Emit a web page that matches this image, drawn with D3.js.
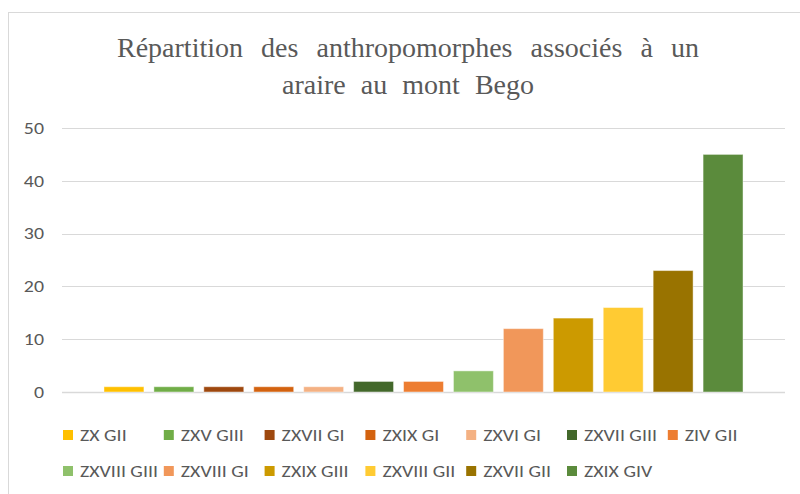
<!DOCTYPE html>
<html>
<head>
<meta charset="utf-8">
<script src="https://cdn.jsdelivr.net/npm/d3@7"></script>
<style>
  html, body { margin: 0; padding: 0; background: #fff; }
  svg { display: block; }
</style>
</head>
<body>
<svg id="chart" width="800" height="494"></svg>
<script>
// Series (one bar each) and their counts
const series = ["ZX GII", "ZXV GIII", "ZXVII GI", "ZXIX GI", "ZXVI GI", "ZXVII GIII", "ZIV GII",
                "ZXVIII GIII", "ZXVIII GI", "ZXIX GIII", "ZXVIII GII", "ZXVII GII", "ZXIX GIV"];
const values = [1, 1, 1, 1, 1, 2, 2, 4, 12, 14, 16, 23, 45];
const colors = ["#FFC000", "#70AD47", "#9E480E", "#D3620F", "#F4B183", "#43682B", "#ED7D31",
                "#8FC16B", "#F1975A", "#CC9A00", "#FFCB33", "#997300", "#5B8B3C"];
const yTicks = [0, 10, 20, 30, 40, 50];
const titleLines = ["Répartition des anthropomorphes associés à un", "araire au mont Bego"];

const svg = d3.select("#chart");
const W = 800, H = 494;
const labelFont = "Carlito, Calibri, Lato, 'Open Sans', sans-serif";
const labelSize = 16.5;

// chart frame
svg.append("rect")
  .attr("x", 8.5).attr("y", 12.5)
  .attr("width", W + 10).attr("height", H + 10)
  .attr("fill", "#fff").attr("stroke", "#D9D9D9").attr("stroke-width", 1);

const plot = { left: 62, right: 785, top: 128, bottom: 392 };

const y = d3.scaleLinear().domain([0, 50]).range([plot.bottom, plot.top]);

// single category holding the cluster of series
const x0 = d3.scaleBand().domain(["all"]).range([plot.left, plot.right])
  .paddingInner(0).paddingOuter(0.0657);
const x1 = d3.scaleBand().domain(series).range([0, x0.bandwidth()])
  .paddingInner(0.2).paddingOuter(0);

// horizontal stretch of the label face, taken from the widest legend entry
const probe = svg.append("text")
  .style("font-family", labelFont).style("font-size", labelSize + "px")
  .text("ZXVIII GIII");
const sx = 78 / probe.node().getComputedTextLength();
probe.remove();

// gridlines
svg.append("g")
  .selectAll("line").data(yTicks).join("line")
  .attr("x1", plot.left).attr("x2", plot.right)
  .attr("y1", d => Math.round(y(d)) + 0.5).attr("y2", d => Math.round(y(d)) + 0.5)
  .attr("stroke", "#D9D9D9").attr("stroke-width", d => d === 0 ? 1.6 : 1.2);

// y axis labels
const yAxis = d3.axisLeft(y).tickValues(yTicks).tickSize(0).tickPadding(0);
const gy = svg.append("g").attr("transform", `translate(${plot.left - 18},0)`).call(yAxis);
gy.select(".domain").remove();
gy.selectAll(".tick text")
  .attr("x", 0)
  .attr("transform", `scale(${sx},1)`)
  .attr("fill", "#595959")
  .style("font-family", labelFont)
  .style("font-size", labelSize + "px");

// bars
svg.append("g")
  .attr("transform", `translate(${x0("all")},0)`)
  .selectAll("rect").data(series).join("rect")
  .attr("x", d => x1(d))
  .attr("width", x1.bandwidth())
  .attr("y", (d, i) => y(values[i]))
  .attr("height", (d, i) => y(0) - y(values[i]))
  .attr("fill", (d, i) => colors[i])
  .attr("stroke", "#fff").attr("stroke-opacity", 0.45).attr("stroke-width", 1);

// title, words spread to the full line width
const titleFont = "'Liberation Serif', 'Times New Roman', serif";
const titleCx = 408;
const titleBase = [57, 94];
const titleWidths = [582, 252];
titleLines.forEach((line, i) => {
  const t = svg.append("text")
    .attr("x", titleCx).attr("y", titleBase[i])
    .attr("text-anchor", "middle")
    .attr("fill", "#595959")
    .style("font-family", titleFont)
    .style("font-size", "28px")
    .text(line);
  const natural = t.node().getComputedTextLength();
  const gaps = line.split(" ").length - 1;
  if (gaps > 0) t.style("word-spacing", ((titleWidths[i] - natural) / gaps) + "px");
});

// legend: 7 entries per row
const legendCols = 7, colStep = 100.8, legendX = 63, rowY = [435, 471];
const leg = svg.append("g")
  .selectAll("g").data(series).join("g")
  .attr("transform", (d, i) => `translate(${legendX + (i % legendCols) * colStep},${rowY[Math.floor(i / legendCols)]})`);
leg.append("rect")
  .attr("x", 0).attr("y", -5).attr("width", 10).attr("height", 10)
  .attr("fill", (d, i) => colors[i]);
leg.append("text")
  .attr("transform", `translate(17,0) scale(${sx},1)`)
  .attr("dy", "0.35em")
  .attr("fill", "#595959")
  .style("font-family", labelFont)
  .style("font-size", labelSize + "px")
  .text(d => d);
</script>
</body>
</html>
